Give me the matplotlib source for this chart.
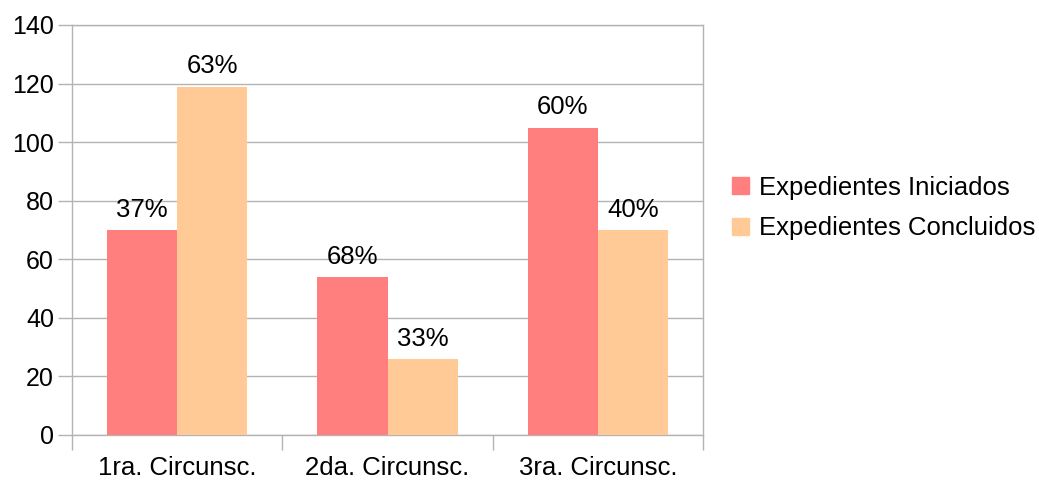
import matplotlib
matplotlib.use("Agg")
import matplotlib.pyplot as plt
from matplotlib.patches import Patch
import numpy as np

categories = ["1ra. Circunsc.", "2da. Circunsc.", "3ra. Circunsc."]
iniciados = [70, 54, 105]
concluidos = [119, 26, 70]
labels_ini = ["37%", "68%", "60%"]
labels_con = ["63%", "33%", "40%"]
series_names = ["Expedientes Iniciados", "Expedientes Concluidos"]
yticks = [0, 20, 40, 60, 80, 100, 120, 140]

plt.rcParams['font.family'] = ['Liberation Sans', 'DejaVu Sans']

W, H = 1039, 480
fig = plt.figure(figsize=(W/100, H/100), dpi=100)
ax = fig.add_axes([72/W, 1-435/H, (703-72)/W, (435-25)/H])

c_ini = "#ff7f7f"
c_con = "#ffca95"
grid_c = "#b3b3b3"

x = np.arange(len(categories))
bw = 1/3
b1 = ax.bar(x - bw/2, iniciados, bw, color=c_ini, zorder=3)
b2 = ax.bar(x + bw/2, concluidos, bw, color=c_con, zorder=3)

for bars, labs in ((b1, labels_ini), (b2, labels_con)):
    for rect, lab in zip(bars, labs):
        ax.annotate(lab, (rect.get_x() + rect.get_width()/2, rect.get_height()),
                    xytext=(0, 6), textcoords="offset points",
                    ha="center", va="bottom", fontsize=18.5, color="black")

ax.set_xlim(-0.5, len(categories) - 0.5)
ax.set_ylim(0, 140)
ax.set_yticks(yticks)
ax.set_yticklabels([str(v) for v in yticks], fontsize=18)
ax.yaxis.grid(True, color=grid_c, linewidth=1, zorder=0)
ax.set_axisbelow(True)

ax.set_xticks(np.arange(-0.5, len(categories)), minor=False)
ax.set_xticklabels([])
ax.set_xticks(x, minor=True)
ax.set_xticklabels(categories, minor=True, fontsize=18.5)
ax.tick_params(axis='x', which='major', length=11, color=grid_c, width=1)
ax.tick_params(axis='x', which='minor', length=0, pad=15)
ax.tick_params(axis='y', length=10, color=grid_c, width=1, pad=3)

for s in ax.spines.values():
    s.set_color(grid_c)
    s.set_linewidth(1)

handles = [Patch(facecolor=c_ini, edgecolor=c_ini), Patch(facecolor=c_con, edgecolor=c_con)]
fig.legend(handles, series_names, loc="center left", bbox_to_anchor=(714/W, 1-208/H),
           frameon=False, fontsize=18.5, handlelength=0.65, handleheight=0.65,
           handletextpad=0.4, labelspacing=0.65, borderpad=0.2)

fig.savefig("out.png", dpi=100)
